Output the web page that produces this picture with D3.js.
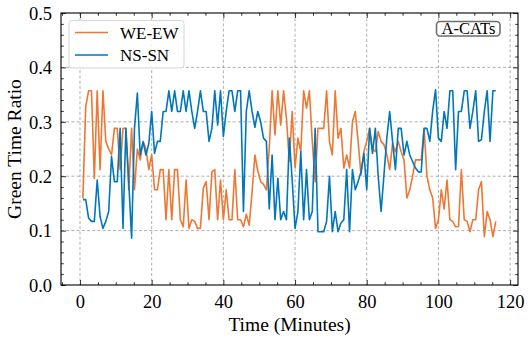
<!DOCTYPE html>
<html>
<head>
<meta charset="utf-8">
<script src="https://cdn.jsdelivr.net/npm/d3@7/dist/d3.min.js"></script>
<style>
  html, body { margin: 0; padding: 0; background: #fff; }
</style>
</head>
<body>
<svg id="chart" width="531" height="342" font-family="'Liberation Serif', serif"></svg>
<script>
// green time ratio per control cycle
const weEw = [
  0.159, 0.328, 0.357, 0.357, 0.196, 0.357, 0.212, 0.357, 0.264, 0.25, 0.239, 0.288, 0.288, 0.212, 0.288, 0.288, 0.175, 0.288, 0.175, 0.25, 0.23, 0.264, 0.25, 0.212, 0.24,
  0.175, 0.175, 0.212, 0.212, 0.12, 0.212, 0.12, 0.212, 0.212, 0.12, 0.107, 0.193, 0.104, 0.12, 0.117, 0.104, 0.104, 0.178, 0.19, 0.12, 0.208, 0.212, 0.12, 0.193, 0.12,
  0.175, 0.12, 0.12, 0.212, 0.12, 0.12, 0.107, 0.13, 0.11, 0.17, 0.239, 0.21, 0.19, 0.185, 0.175, 0.251, 0.357, 0.276, 0.357, 0.294, 0.357, 0.306, 0.227, 0.319, 0.215,
  0.27, 0.245, 0.357, 0.325, 0.357, 0.264, 0.19, 0.288, 0.288, 0.288, 0.357, 0.264, 0.239, 0.357, 0.27, 0.288, 0.215, 0.239, 0.215, 0.3, 0.319, 0.264, 0.202, 0.245, 0.264,
  0.288, 0.25, 0.245, 0.282, 0.264, 0.258, 0.24, 0.212, 0.26, 0.245, 0.264, 0.245, 0.23, 0.16, 0.175, 0.2, 0.23, 0.23, 0.23, 0.288, 0.2, 0.175, 0.16, 0.104, 0.12,
  0.175, 0.14, 0.193, 0.12, 0.117, 0.107, 0.107, 0.212, 0.12, 0.117, 0.098, 0.12, 0.12, 0.175, 0.19, 0.089, 0.135, 0.12, 0.089, 0.117
];
const nsSn = [
  0.157, 0.157, 0.123, 0.117, 0.117, 0.193, 0.126, 0.104, 0.117, 0.135, 0.236, 0.19, 0.19, 0.288, 0.104, 0.288, 0.19, 0.086, 0.288, 0.353, 0.239, 0.263, 0.239, 0.26, 0.319,
  0.242, 0.264, 0.264, 0.319, 0.319, 0.357, 0.319, 0.357, 0.319, 0.319, 0.357, 0.319, 0.357, 0.319, 0.288, 0.319, 0.357, 0.319, 0.319, 0.264, 0.288, 0.357, 0.294, 0.357, 0.273,
  0.32, 0.357, 0.357, 0.319, 0.357, 0.357, 0.135, 0.319, 0.357, 0.319, 0.29, 0.319, 0.3, 0.27, 0.264, 0.14, 0.239, 0.12, 0.196, 0.12, 0.135, 0.12, 0.27, 0.193, 0.104,
  0.135, 0.245, 0.12, 0.212, 0.12, 0.135, 0.288, 0.098, 0.098, 0.098, 0.117, 0.2, 0.098, 0.135, 0.098, 0.114, 0.12, 0.212, 0.098, 0.212, 0.175, 0.19, 0.208, 0.242, 0.175,
  0.288, 0.242, 0.288, 0.2, 0.135, 0.202, 0.27, 0.319, 0.264, 0.212, 0.288, 0.288, 0.239, 0.264, 0.239, 0.227, 0.215, 0.208, 0.208, 0.288, 0.288, 0.264, 0.32, 0.359, 0.27,
  0.264, 0.319, 0.288, 0.357, 0.357, 0.212, 0.319, 0.319, 0.357, 0.357, 0.288, 0.319, 0.357, 0.264, 0.267, 0.319, 0.357, 0.264, 0.357, 0.357
];
const cycleMinutes = 0.8; // one sample per control cycle
const minutes = weEw.map((_, i) => cycleMinutes * (i + 1));

const seriesNames = ['WE-EW', 'NS-SN'];
const seriesColors = ['#EE7733', '#0077BB'];
const xTicks = [0, 20, 40, 60, 80, 100, 120];
const yTicks = [0.0, 0.1, 0.2, 0.3, 0.4, 0.5];

const serif = "'Liberation Serif', 'Times New Roman', serif";
const svg = d3.select('#chart');
const plot = { left: 61, right: 518, top: 13, bottom: 285 };

const x = d3.scaleLinear().domain([-5.3, 122.2]).range([plot.left, plot.right]);
const y = d3.scaleLinear().domain([0, 0.5]).range([plot.bottom, plot.top]);

// grid
const grid = svg.append('g').attr('stroke', '#9a9a9a').attr('stroke-width', 0.8)
  .attr('stroke-dasharray', '3,2.2');
grid.selectAll('line.gx').data(xTicks).join('line')
  .attr('class', 'gx')
  .attr('x1', d => x(d)).attr('x2', d => x(d))
  .attr('y1', plot.top).attr('y2', plot.bottom);
grid.selectAll('line.gy').data(yTicks.slice(1, -1)).join('line')
  .attr('class', 'gy')
  .attr('x1', plot.left).attr('x2', plot.right)
  .attr('y1', d => y(d)).attr('y2', d => y(d));

// series
const line = d3.line().x(d => x(d[0])).y(d => y(d[1]));
[weEw, nsSn].forEach((vals, k) => {
  svg.append('path')
    .datum(vals.map((v, i) => [minutes[i], v]))
    .attr('fill', 'none')
    .attr('stroke', seriesColors[k])
    .attr('stroke-width', 1.6)
    .attr('stroke-linejoin', 'round')
    .attr('d', line);
});

// axes with inward ticks on all sides
const xMinor = d3.range(-5, 123, 5).filter(d => !xTicks.includes(d));
const yMinor = d3.range(0.02, 0.5, 0.02).filter(d => Math.abs(d * 10 - Math.round(d * 10)) > 1e-6);

function axisPair(axisFn, scale, ticks, minor, tr) {
  const major = axisFn(scale).tickValues(ticks).tickSizeInner(-5).tickSizeOuter(0).tickPadding(9);
  const gMaj = svg.append('g').attr('transform', tr).call(major)
    .attr('font-family', serif).attr('font-size', 18.5);
  const gMin = svg.append('g').attr('transform', tr)
    .call(axisFn(scale).tickValues(minor).tickSizeInner(-2.8).tickSizeOuter(0).tickFormat(''));
  [gMaj, gMin].forEach(g => {
    g.select('.domain').remove();
    g.selectAll('line').attr('stroke', '#000').attr('stroke-width', 0.8);
  });
  return gMaj;
}

const gx = axisPair(d3.axisBottom, x, xTicks, xMinor, `translate(0,${plot.bottom})`);
gx.selectAll('text').attr('dy', '0.75em').attr('fill', '#000');
axisPair(d3.axisTop, x, xTicks, xMinor, `translate(0,${plot.top})`).selectAll('text').remove();
const gy = axisPair(d3.axisLeft, y, yTicks, yMinor, `translate(${plot.left},0)`);
gy.selectAll('text').attr('dy', '0.34em').attr('fill', '#000')
  .text(d => d.toFixed(1));
axisPair(d3.axisRight, y, yTicks, yMinor, `translate(${plot.right},0)`).selectAll('text').remove();

svg.append('rect')
  .attr('x', plot.left).attr('y', plot.top)
  .attr('width', plot.right - plot.left).attr('height', plot.bottom - plot.top)
  .attr('fill', 'none').attr('stroke', '#000').attr('stroke-width', 1.1);

// axis titles
svg.append('text')
  .attr('x', (plot.left + plot.right) / 2).attr('y', 331)
  .attr('text-anchor', 'middle').attr('font-size', 19.5)
  .attr('font-family', serif)
  .text('Time (Minutes)');
svg.append('text')
  .attr('transform', `translate(21,${(plot.top + plot.bottom) / 2}) rotate(-90)`)
  .attr('text-anchor', 'middle').attr('font-size', 19.5)
  .attr('font-family', serif)
  .text('Green Time Ratio');

// legend
const legend = svg.append('g').attr('font-family', serif);
legend.append('rect')
  .attr('x', 69).attr('y', 20.5).attr('width', 115).attr('height', 47.5)
  .attr('rx', 3).attr('fill', '#fff').attr('fill-opacity', 0.85)
  .attr('stroke', '#d5d5d5').attr('stroke-width', 1);
seriesNames.forEach((name, k) => {
  const ly = 32.5 + k * 22.5;
  legend.append('line')
    .attr('x1', 75).attr('x2', 108).attr('y1', ly).attr('y2', ly)
    .attr('stroke', seriesColors[k]).attr('stroke-width', 1.6);
  legend.append('text')
    .attr('x', 120).attr('y', ly + 6)
    .attr('font-size', 17)
    .text(name);
});

// method tag
svg.append('rect')
  .attr('x', 436.5).attr('y', 21.5).attr('width', 63.5).attr('height', 14.5)
  .attr('rx', 3.5).attr('fill', '#fff')
  .attr('stroke', '#6e6e6e').attr('stroke-width', 1.6);
svg.append('text')
  .attr('x', 468.5).attr('y', 34).attr('text-anchor', 'middle')
  .attr('font-size', 16.5).attr('font-family', serif)
  .text('A-CATs');
</script>
</body>
</html>
